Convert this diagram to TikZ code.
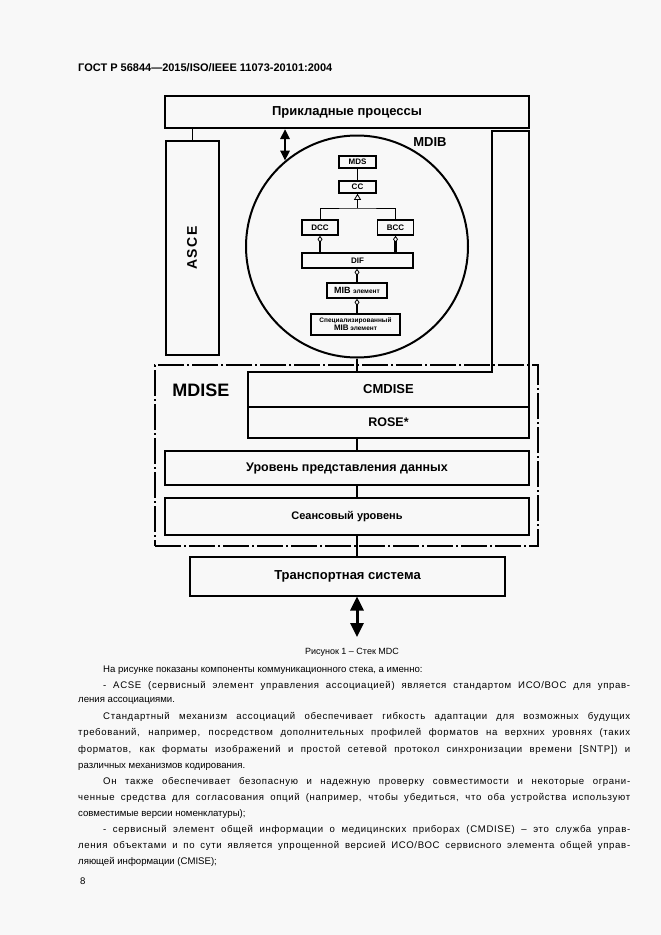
\documentclass[tikz,border=0pt]{standalone}
\usepackage{fontspec}
\setmainfont{Liberation Sans}
\usetikzlibrary{arrows.meta}
\definecolor{paper}{HTML}{F8F8F8}

\begin{document}
\begin{tikzpicture}[x=1pt, y=-1pt,
  box/.style={draw, line width=2pt, fill=paper, inner sep=0pt, font=\fontsize{13}{15}\selectfont\bfseries},
  small/.style={draw, line width=1.6pt, fill=paper, inner sep=0pt, align=center, font=\fontsize{8}{9}\selectfont\bfseries},
  thinline/.style={line width=0.9pt},
  thickline/.style={line width=2.4pt},
  dbl/.style={line width=2.6pt, {Triangle[length=10pt,width=9pt]}-{Triangle[length=10pt,width=9pt]}},
  bigdbl/.style={line width=3pt, {Triangle[length=14pt,width=13pt]}-{Triangle[length=14pt,width=13pt]}},
  agg/.style={-{Diamond[open,length=7pt,width=5pt,line width=0.8pt]}},
  inh/.style={-{Triangle[open,length=6pt,width=7pt,line width=0.8pt]}},
  frame/.style={draw, line width=1.1pt, dash pattern=on 26pt off 3pt on 2pt off 3pt},
  body/.style={anchor=base west, inner sep=0pt, font=\fontsize{9.6}{12}\selectfont},
  just/.style={body, font=\fontsize{9.6}{12}\selectfont\addfontfeatures{LetterSpace=7}},
]
  \fill[paper] (0,0) rectangle (661,935);
  \useasboundingbox (0,0) rectangle (661,935);

  % Header
  \node[anchor=base west, inner sep=0pt, font=\fontsize{11}{13}\selectfont\bfseries] (header) at (78,71) {ГОСТ Р 56844—2015/ISO/IEEE 11073-20101:2004};

  % Nodes
  \node[frame, minimum width=383, minimum height=181] (mdise) at (346.5,455.5) {};
  \node[font=\fontsize{18}{20}\selectfont\bfseries] (mdiseText) at (201,390) {MDISE};

  \node[box, minimum width=364, minimum height=32] (app) at (347,112) {Прикладные процессы};
  \node[box, minimum width=53, minimum height=214] (asce) at (192,248) {};
  \node[rotate=90, font=\fontsize{14}{16}\selectfont\bfseries\addfontfeatures{LetterSpace=10}] (asceText) at (asce) {ASCE};

  \node[circle, draw, line width=2pt, minimum size=222, inner sep=0pt] (mdib) at (357,246.5) {};
  \node[font=\fontsize{13}{15}\selectfont\bfseries] (mdibText) at (430,142) {MDIB};

  \coordinate (col) at (492,131);
  \node[minimum width=281, minimum height=35, inner sep=0pt, font=\fontsize{13}{15}\selectfont\bfseries] (cmdise) at (388.5,389.5) {CMDISE};
  \node[box, minimum width=281, minimum height=31, font=\fontsize{12.5}{15}\selectfont\bfseries] (rose) at (388.5,422.5) {ROSE*};
  \node[box, minimum width=364, minimum height=34, font=\fontsize{12.5}{15}\selectfont\bfseries] (pres) at (347,468) {Уровень представления данных};
  \node[box, minimum width=364, minimum height=37, font=\fontsize{11}{13}\selectfont\bfseries] (sess) at (347,516.5) {Сеансовый уровень};
  \node[box, minimum width=315, minimum height=39] (transport) at (347.5,576) {Транспортная система};
  \coordinate (net) at (357,637);

  % MDIB contents
  \node[small, minimum width=37, minimum height=12] (mds) at (357.5,162) {MDS};
  \node[small, minimum width=37, minimum height=12] (cc) at (357.5,187) {CC};
  \node[small, minimum width=36, minimum height=15] (dcc) at (320,227.5) {DCC};
  \node[small, minimum width=36, minimum height=15] (bcc) at (395.5,227.5) {BCC};
  \node[small, minimum width=111, minimum height=15] (dif) at (357.5,260.5) {DIF};
  \node[small, minimum width=60, minimum height=15, font=\fontsize{9}{10}\selectfont\bfseries] (mib) at (357,290.5) {MIB {\fontsize{6.5}{7}\selectfont элемент}};
  \node[small, minimum width=89, minimum height=21, font=\fontsize{6.5}{8}\selectfont\bfseries] (spec) at (355.5,324.5) {Специализированный\\{\fontsize{8}{8}\selectfont MIB} элемент};
  \coordinate (split) at (357.5,208);

  % Edges
  \draw[thinline] (app.south -| asce.north) -- (asce.north);
  \draw[dbl] (app.south -| mdib.130) -- (mdib.130);
  \draw[box, fill=none] (cmdise.north west) -- (cmdise.north west -| col) -- (col) -- (col -| cmdise.east) -- (cmdise.south east) -- (cmdise.south west) -- cycle;
  \draw[thickline] (mdib.south) -- (mdib.south |- cmdise.north);
  \draw[thickline] (rose.south -| mdib.south) -- (pres.north -| mdib.south);
  \draw[thickline] (pres.south -| mdib.south) -- (sess.north -| mdib.south);
  \draw[thickline] (sess.south -| mdib.south) -- (transport.north -| mdib.south);
  \draw[bigdbl] (transport.south -| mdib.south) -- (net);

  \draw[thinline] (mds.south) -- (cc.north);
  \draw[thinline] (dcc.north) |- (split) -| (bcc.north);
  \draw[thinline, inh] (split) -- (cc.south);
  \draw[thickline, agg] (dif.north -| dcc.south) -- (dcc.south);
  \draw[thickline, agg] (dif.north -| bcc.south) -- (bcc.south);
  \draw[thickline, agg] (mib.north) -- (mib.north |- dif.south);
  \draw[thickline, agg] (spec.north -| mib.south) -- (mib.south);

  % Caption and text
  \node[anchor=base, inner sep=0pt, font=\fontsize{9}{11}\selectfont] (caption) at (352,654) {Рисунок 1 – Стек MDC};

  \node[body] (t1) at (103,672) {На рисунке показаны компоненты коммуникационного стека, а именно:};
  \node[just] (t2) at (103,688) {\makebox[527pt][s]{- ACSE (сервисный элемент управления ассоциацией) является стандартом ИСО/ВОС для управ-}};
  \node[body] (t3) at (78,702) {ления ассоциациями.};
  \node[just] (t4) at (103,719) {\makebox[527pt][s]{Стандартный механизм ассоциаций обеспечивает гибкость адаптации для возможных будущих}};
  \node[just] (t5) at (78,735) {\makebox[552pt][s]{требований, например, посредством дополнительных профилей форматов на верхних уровнях (таких}};
  \node[just] (t6) at (78,752) {\makebox[552pt][s]{форматов, как форматы изображений и простой сетевой протокол синхронизации времени [SNTP]) и}};
  \node[body] (t7) at (78,768) {различных механизмов кодирования.};
  \node[just] (t8) at (103,784) {\makebox[527pt][s]{Он также обеспечивает безопасную и надежную проверку совместимости и некоторые ограни-}};
  \node[just] (t9) at (78,800) {\makebox[552pt][s]{ченные средства для согласования опций (например, чтобы убедиться, что оба устройства используют}};
  \node[body] (t10) at (78,816) {совместимые версии номенклатуры);};
  \node[just] (t11) at (103,832) {\makebox[527pt][s]{- сервисный элемент общей информации о медицинских приборах (CMDISE) – это служба управ-}};
  \node[just] (t12) at (78,848) {\makebox[552pt][s]{ления объектами и по сути является упрощенной версией ИСО/ВОС сервисного элемента общей управ-}};
  \node[body] (t13) at (78,864) {ляющей информации (CMISE);};
  \node[body] (pageno) at (80,884) {8};
\end{tikzpicture}
\end{document}
